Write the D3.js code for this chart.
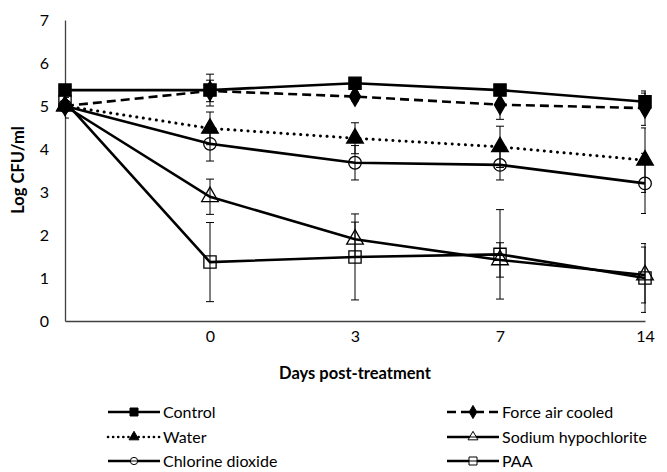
<!DOCTYPE html>
<html>
<head>
<meta charset="utf-8">
<script src="https://cdn.jsdelivr.net/npm/d3@7"></script>
<style>
  body { margin: 0; background: #fff; }
  text { font-family: Lato, "Open Sans", sans-serif; fill: #000; }
</style>
</head>
<body>
<svg id="chart" width="667" height="472"></svg>
<script>
// category labels (first point = pre-treatment, unlabeled)
var days = ["pre", "0", "3", "7", "14"];
var dayLabels = ["", "0", "3", "7", "14"];
var yTicks = [0, 1, 2, 3, 4, 5, 6, 7];

var control = [5.37, 5.37, 5.53, 5.37, 5.10];
var controlErr = [0.10, 0.37, 0.10, 0.10, 0.20];
var forceAir = [5.00, 5.35, 5.22, 5.03, 4.95];
var forceAirErr = [0.10, 0.25, 0.10, 0.34, 0.40];
var water = [5.00, 4.48, 4.25, 4.05, 3.74];
var waterErr = [0.28, 0.38, 0.36, 0.48, 0.75];
var sodium = [5.00, 2.89, 1.90, 1.42, 1.07];
var sodiumErr = [0.10, 0.41, 0.40, 0.40, 0.65];
var chlorine = [5.00, 4.12, 3.68, 3.63, 3.20];
var chlorineErr = [0.10, 0.40, 0.40, 0.35, 0.70];
var paa = [5.10, 1.37, 1.49, 1.55, 1.00];
var paaErr = [0.10, 0.92, 1.00, 1.04, 0.80];

var series = [
  { name: "Control", values: control, err: controlErr, dash: null, marker: "square", fill: "#000" },
  { name: "Force air cooled", values: forceAir, err: forceAirErr, dash: "9,5", marker: "diamond", fill: "#000" },
  { name: "Water", values: water, err: waterErr, dash: "0.1,6.5", marker: "triangle", fill: "#000" },
  { name: "Sodium hypochlorite", values: sodium, err: sodiumErr, dash: null, marker: "triangle", fill: "none" },
  { name: "Chlorine dioxide", values: chlorine, err: chlorineErr, dash: null, marker: "circle", fill: "none" },
  { name: "PAA", values: paa, err: paaErr, dash: null, marker: "square", fill: "none" }
];

var svg = d3.select("#chart");

var x = d3.scalePoint().domain(days).range([65, 645]);
var y = d3.scaleLinear().domain([0, 7]).range([321, 20]);

var symbolTypes = {
  square: d3.symbolSquare,
  diamond: d3.symbolDiamond,
  triangle: d3.symbolTriangle,
  circle: d3.symbolCircle
};
var symbolSizes = { square: 150, diamond: 110, triangle: 120, circle: 125 };
var legendSizes = { square: 64, diamond: 50, triangle: 42, circle: 42 };

// axes
var xAxis = d3.axisBottom(x).tickSize(0).tickFormat(function (d, i) { return dayLabels[i]; });
svg.append("g")
  .attr("transform", "translate(0,321)")
  .call(xAxis)
  .call(function (g) {
    g.select(".domain").attr("stroke", "#404040").attr("stroke-width", 1.3);
    g.selectAll("text").attr("font-size", "16px").attr("dy", "1.1em").attr("fill", "#000");
  });

var yAxis = d3.axisLeft(y).tickValues(yTicks).tickSize(0).tickPadding(16).tickFormat(d3.format("d"));
svg.append("g")
  .attr("transform", "translate(65,0)")
  .call(yAxis)
  .call(function (g) {
    g.select(".domain").attr("stroke", "#404040").attr("stroke-width", 1.3);
    g.selectAll("text").attr("font-size", "16px").attr("fill", "#000");
  });

svg.append("text")
  .attr("x", 355)
  .attr("y", 379)
  .attr("text-anchor", "middle")
  .attr("font-size", "16.5px")
  .attr("font-weight", "bold")
  .text("Days post-treatment");

svg.append("text")
  .attr("transform", "translate(24,170) rotate(-90)")
  .attr("text-anchor", "middle")
  .attr("font-size", "16.5px")
  .attr("font-weight", "bold")
  .text("Log CFU/ml");

// clip for error bars
svg.append("clipPath").attr("id", "plotclip")
  .append("rect").attr("x", 65).attr("y", 0).attr("width", 581).attr("height", 330);

var line = d3.line()
  .x(function (d, i) { return x(days[i]); })
  .y(function (d) { return y(d); });

var plot = svg.append("g");

series.forEach(function (s) {
  plot.append("path")
    .datum(s.values)
    .attr("d", line)
    .attr("fill", "none")
    .attr("stroke", "#000")
    .attr("stroke-width", s.name === "Water" ? 3 : 2.6)
    .attr("stroke-linecap", s.name === "Water" ? "round" : "butt")
    .attr("stroke-dasharray", s.dash);
});

series.forEach(function (s) {
  var eb = plot.append("g").attr("clip-path", "url(#plotclip)");
  s.values.forEach(function (v, i) {
    var cx = x(days[i]);
    var top = y(v + s.err[i]), bot = y(v - s.err[i]);
    eb.append("line").attr("x1", cx).attr("x2", cx).attr("y1", top).attr("y2", bot)
      .attr("stroke", "#000").attr("stroke-width", 1);
    [top, bot].forEach(function (yy) {
      eb.append("line").attr("x1", cx - 4).attr("x2", cx + 4).attr("y1", yy).attr("y2", yy)
        .attr("stroke", "#000").attr("stroke-width", 1);
    });
  });
});

series.forEach(function (s) {
  plot.selectAll(null)
    .data(s.values)
    .enter()
    .append("path")
    .attr("d", d3.symbol().type(symbolTypes[s.marker]).size(symbolSizes[s.marker]))
    .attr("transform", function (d, i) { return "translate(" + x(days[i]) + "," + y(d) + ")"; })
    .attr("fill", s.fill)
    .attr("stroke", "#000")
    .attr("stroke-width", 1.3);
});

// legend
var legendCols = [108, 447];
var legendRows = [412, 437, 461];
series.forEach(function (s, j) {
  var lx = legendCols[j % 2], ly = legendRows[Math.floor(j / 2)];
  var g = svg.append("g");
  g.append("line")
    .attr("x1", lx).attr("x2", lx + 52).attr("y1", ly).attr("y2", ly)
    .attr("stroke", "#000").attr("stroke-width", 2.6)
    .attr("stroke-linecap", s.name === "Water" ? "round" : "butt")
    .attr("stroke-dasharray", s.name === "Water" ? "0.1,5" : s.dash);
  g.append("path")
    .attr("d", d3.symbol().type(symbolTypes[s.marker]).size(legendSizes[s.marker]))
    .attr("transform", "translate(" + (lx + 26) + "," + ly + ")")
    .attr("fill", s.fill === "none" ? "#fff" : s.fill)
    .attr("stroke", "#000")
    .attr("stroke-width", 1);
  if (s.fill === "none") {
    g.append("line")
      .attr("x1", lx + 20).attr("x2", lx + 32).attr("y1", ly).attr("y2", ly)
      .attr("stroke", "#000").attr("stroke-width", 1);
  }
  g.append("text")
    .attr("x", lx + 55)
    .attr("y", ly)
    .attr("dy", "0.35em")
    .attr("font-size", "16px")
    .text(s.name);
});
</script>
</body>
</html>
